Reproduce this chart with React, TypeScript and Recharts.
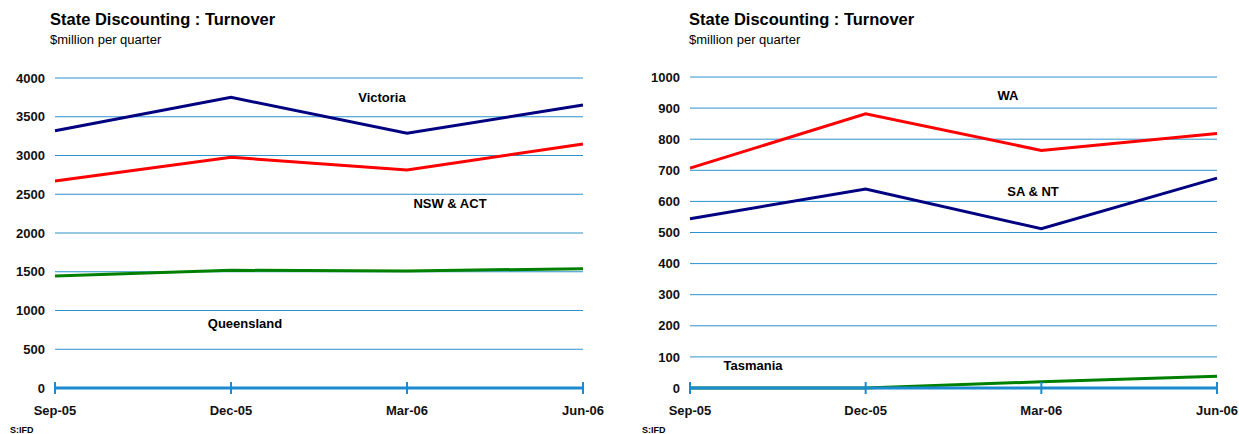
import React from 'react';
import { LineChart, Line, XAxis, YAxis, CartesianGrid } from 'recharts';

// Quarterly turnover, $million
const quarters = ['Sep-05', 'Dec-05', 'Mar-06', 'Jun-06'];
const victoria = [3320, 3751, 3286, 3652];
const nswAct = [2671, 2977, 2813, 3148];
const queensland = [1445, 1519, 1510, 1540];
const wa = [707, 882, 764, 818];
const saNt = [544, 640, 512, 675];
const tasmania = [0, 0, 20, 38];

const leftTicks = [0, 500, 1000, 1500, 2000, 2500, 3000, 3500, 4000];
const rightTicks = [0, 100, 200, 300, 400, 500, 600, 700, 800, 900, 1000];

const FONT = '"Liberation Sans", Arial, sans-serif';
const GRID = '#2a93cc';
const AXIS = '#1b8ad0';
const NAVY = '#000080';
const RED = '#ff0000';
const GREEN = '#008000';

const leftData = quarters.map((q, i) => ({
  q,
  victoria: victoria[i],
  nswAct: nswAct[i],
  queensland: queensland[i],
}));

const rightData = quarters.map((q, i) => ({
  q,
  wa: wa[i],
  saNt: saNt[i],
  tasmania: tasmania[i],
}));

// tick mark crossing the zero line, label underneath
const QuarterTick = (props: any) => {
  const { x, y, payload } = props;
  return (
    <g>
      <line x1={x} x2={x} y1={y - 6} y2={y + 6} stroke={AXIS} strokeWidth={2} />
      <text
        x={x}
        y={y + 27}
        textAnchor="middle"
        fontFamily={FONT}
        fontSize={13}
        fontWeight="bold"
        fill="#111"
      >
        {payload.value}
      </text>
    </g>
  );
};

const yTickStyle = { fontFamily: FONT, fontSize: 13, fontWeight: 'bold', fill: '#111' };

type Series = { key: string; color: string };

const StateChart = ({
  data,
  series,
  ticks,
  max,
  width,
  yWidth,
  margin,
}: {
  data: any[];
  series: Series[];
  ticks: number[];
  max: number;
  width: number;
  yWidth: number;
  margin: { top: number; right: number; bottom: number; left: number };
}) => (
  <LineChart width={width} height={434} data={data} margin={margin}>
    <CartesianGrid vertical={false} stroke={GRID} strokeWidth={1} />
    <XAxis
      dataKey="q"
      height={30}
      interval={0}
      tickSize={0}
      tickMargin={0}
      tickLine={false}
      axisLine={{ stroke: AXIS, strokeWidth: 3 }}
      tick={<QuarterTick />}
    />
    <YAxis
      domain={[0, max]}
      ticks={ticks}
      width={yWidth}
      axisLine={false}
      tickLine={false}
      tickSize={0}
      tickMargin={10}
      tick={yTickStyle}
    />
    {series.map((s) => (
      <Line
        key={s.key}
        dataKey={s.key}
        stroke={s.color}
        strokeWidth={3}
        dot={false}
        activeDot={false}
        isAnimationActive={false}
      />
    ))}
  </LineChart>
);

const titleStyle = { fontFamily: FONT, fontSize: 16.5, fontWeight: 'bold' as const, fill: '#000' };
const subStyle = { fontFamily: FONT, fontSize: 13, fill: '#000' };
const seriesLabel = { fontFamily: FONT, fontSize: 13, fontWeight: 'bold' as const, fill: '#000' };
const sourceStyle = { fontFamily: FONT, fontSize: 9, fontWeight: 'bold' as const, fill: '#000' };

export default function App() {
  return (
    <div style={{ position: 'absolute', left: 0, top: 0, width: 1239, height: 434, background: '#fff' }}>
      <div style={{ position: 'absolute', left: 0, top: 0 }}>
        <StateChart
          data={leftData}
          series={[
            { key: 'victoria', color: NAVY },
            { key: 'nswAct', color: RED },
            { key: 'queensland', color: GREEN },
          ]}
          ticks={leftTicks}
          max={4000}
          width={620}
          yWidth={55}
          margin={{ top: 78, right: 37, bottom: 16, left: 0 }}
        />
      </div>
      <div style={{ position: 'absolute', left: 620, top: 0 }}>
        <StateChart
          data={rightData}
          series={[
            { key: 'wa', color: RED },
            { key: 'saNt', color: NAVY },
            { key: 'tasmania', color: GREEN },
          ]}
          ticks={rightTicks}
          max={1000}
          width={619}
          yWidth={70}
          margin={{ top: 77, right: 22, bottom: 16, left: 0 }}
        />
      </div>
      <svg
        width={1239}
        height={434}
        style={{ position: 'absolute', left: 0, top: 0, pointerEvents: 'none' }}
      >
        <text x={50} y={25} {...titleStyle}>State Discounting : Turnover</text>
        <text x={50} y={44} {...subStyle}>$million per quarter</text>
        <text x={689} y={25} {...titleStyle}>State Discounting : Turnover</text>
        <text x={689} y={44} {...subStyle}>$million per quarter</text>

        <text x={382} y={101.5} textAnchor="middle" {...seriesLabel}>Victoria</text>
        <text x={450} y={208} textAnchor="middle" {...seriesLabel}>NSW &amp; ACT</text>
        <text x={245} y={327.5} textAnchor="middle" {...seriesLabel}>Queensland</text>
        <text x={1008} y={99.5} textAnchor="middle" {...seriesLabel}>WA</text>
        <text x={1033} y={196} textAnchor="middle" {...seriesLabel}>SA &amp; NT</text>
        <text x={753} y={369.5} textAnchor="middle" {...seriesLabel}>Tasmania</text>

        <text x={10} y={433} {...sourceStyle}>S:IFD</text>
        <text x={642} y={433} {...sourceStyle}>S:IFD</text>
      </svg>
    </div>
  );
}
